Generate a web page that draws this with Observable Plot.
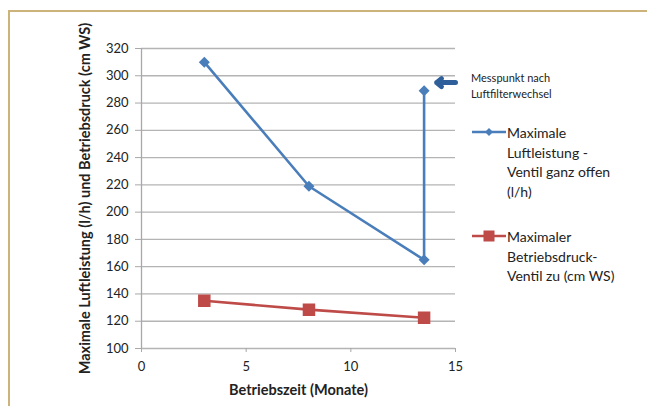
<!DOCTYPE html>
<html>
<head>
<meta charset="utf-8">
<script src="https://cdn.jsdelivr.net/npm/d3@7"></script>
<script src="https://cdn.jsdelivr.net/npm/@observablehq/plot@0.6"></script>
<style>
  html, body { margin: 0; padding: 0; background: #fff; }
  #wrap { position: relative; width: 647px; height: 406px; overflow: hidden; font-family: Lato, "Open Sans", sans-serif; }
  #frame { position: absolute; left: 8px; top: 10px; width: 660px; height: 420px; border-top: 2px solid #ccb37a; border-left: 2px solid #ccb37a; box-sizing: border-box; pointer-events: none; }
  .note { position: absolute; left: 471px; top: 70px; font-size: 11px; line-height: 16px; color: #222; }
  .leg { position: absolute; left: 472px; font-size: 14px; line-height: 19.5px; color: #222; display: flex; }
  .leg svg { flex: none; margin-top: 3px; }
</style>
</head>
<body>
<div id="wrap"></div>
<script>
// Data
const months = [3, 8, 13.5, 13.5];
const luftleistung = [310, 219, 165, 289];
const monthsDruck = [3, 8, 13.5];
const betriebsdruck = [135, 128.5, 122.5];
const xTicks = [0, 5, 10, 15];
const yTicks = [100, 120, 140, 160, 180, 200, 220, 240, 260, 280, 300, 320];
const seriesNames = ["Maximale\nLuftleistung -\nVentil ganz offen\n(l/h)", "Maximaler\nBetriebsdruck-\nVentil zu (cm WS)"];
const xTitle = "Betriebszeit (Monate)";
const yTitle = "Maximale Luftleistung (l/h) und Betriebsdruck (cm WS)";
const noteText = "Messpunkt nach\nLuftfilterwechsel";
const noteArrow = [{x1: 15.0, x2: 14.1, y: 295}];

const blue = "#4a7ebb";
const red = "#be4b48";

const blueData = months.map((m, i) => ({x: m, y: luftleistung[i]}));
const redData = monthsDruck.map((m, i) => ({x: m, y: betriebsdruck[i]}));

const chart = Plot.plot({
  width: 647,
  height: 406,
  marginLeft: 141,
  marginRight: 192,
  marginTop: 48,
  marginBottom: 58,
  style: {fontFamily: "Lato, 'Open Sans', sans-serif", fontSize: "13px", color: "#222", background: "transparent"},
  x: {domain: [0, 15]},
  y: {domain: [100, 320]},
  marks: [
    Plot.gridY(yTicks, {stroke: "#b4b4b4", strokeOpacity: 1, strokeWidth: 1.3}),
    Plot.ruleX([0], {stroke: "#a8a8a8", strokeWidth: 1.3}),
    Plot.axisY(yTicks, {tickSize: 6, tickPadding: 7, stroke: "#a8a8a8", label: yTitle, labelAnchor: "center", labelOffset: 62}),
    Plot.axisX(xTicks, {tickSize: 4, tickPadding: 9, stroke: "#a8a8a8", label: xTitle, labelAnchor: "center", labelOffset: 46}),
    Plot.line(redData, {x: "x", y: "y", stroke: red, strokeWidth: 2.6}),
    Plot.dot(redData, {x: "x", y: "y", symbol: "square", r: 6.2, fill: red, stroke: red}),
    Plot.line(blueData, {x: "x", y: "y", stroke: blue, strokeWidth: 2.6}),
    Plot.dot(blueData, {x: "x", y: "y", symbol: "diamond2", r: 4, fill: blue, stroke: blue}),
    Plot.arrow(noteArrow, {x1: "x1", x2: "x2", y1: "y", y2: "y", stroke: "#2f5f9a", strokeWidth: 5, headLength: 10, headAngle: 80, clip: false})
  ]
});

// Axis titles: bold, no direction arrows
chart.querySelectorAll("g[aria-label='y-axis label'] text, g[aria-label='x-axis label'] text").forEach(t => {
  t.textContent = t.textContent.replace(/\s*[→↑←↓]\s*/g, "").trim();
  t.setAttribute("font-weight", "bold");
  t.setAttribute("font-size", "14.5");
});

const wrap = document.getElementById("wrap");
wrap.appendChild(chart);
chart.style.position = "absolute";
chart.style.left = "0";
chart.style.top = "0";

const frame = document.createElement("div");
frame.id = "frame";
wrap.appendChild(frame);

const note = document.createElement("div");
note.className = "note";
note.innerHTML = noteText.split("\n").join("<br>");
wrap.appendChild(note);

function legendItem(name, color, symbol, top) {
  const d = document.createElement("div");
  d.className = "leg";
  d.style.top = top + "px";
  const sym = symbol === "diamond"
    ? `<polygon points="17,2 21,6 17,10 13,6" fill="${color}"/>`
    : `<rect x="11.5" y="0.5" width="11" height="11" fill="${color}"/>`;
  d.innerHTML = `<svg width="35" height="12"><line x1="0" x2="34" y1="6" y2="6" stroke="${color}" stroke-width="2.6"/>${sym}</svg><div>${name.split("\n").join("<br>")}</div>`;
  wrap.appendChild(d);
}
legendItem(seriesNames[0], blue, "diamond", 123);
legendItem(seriesNames[1], red, "square", 227);
</script>
</body>
</html>
